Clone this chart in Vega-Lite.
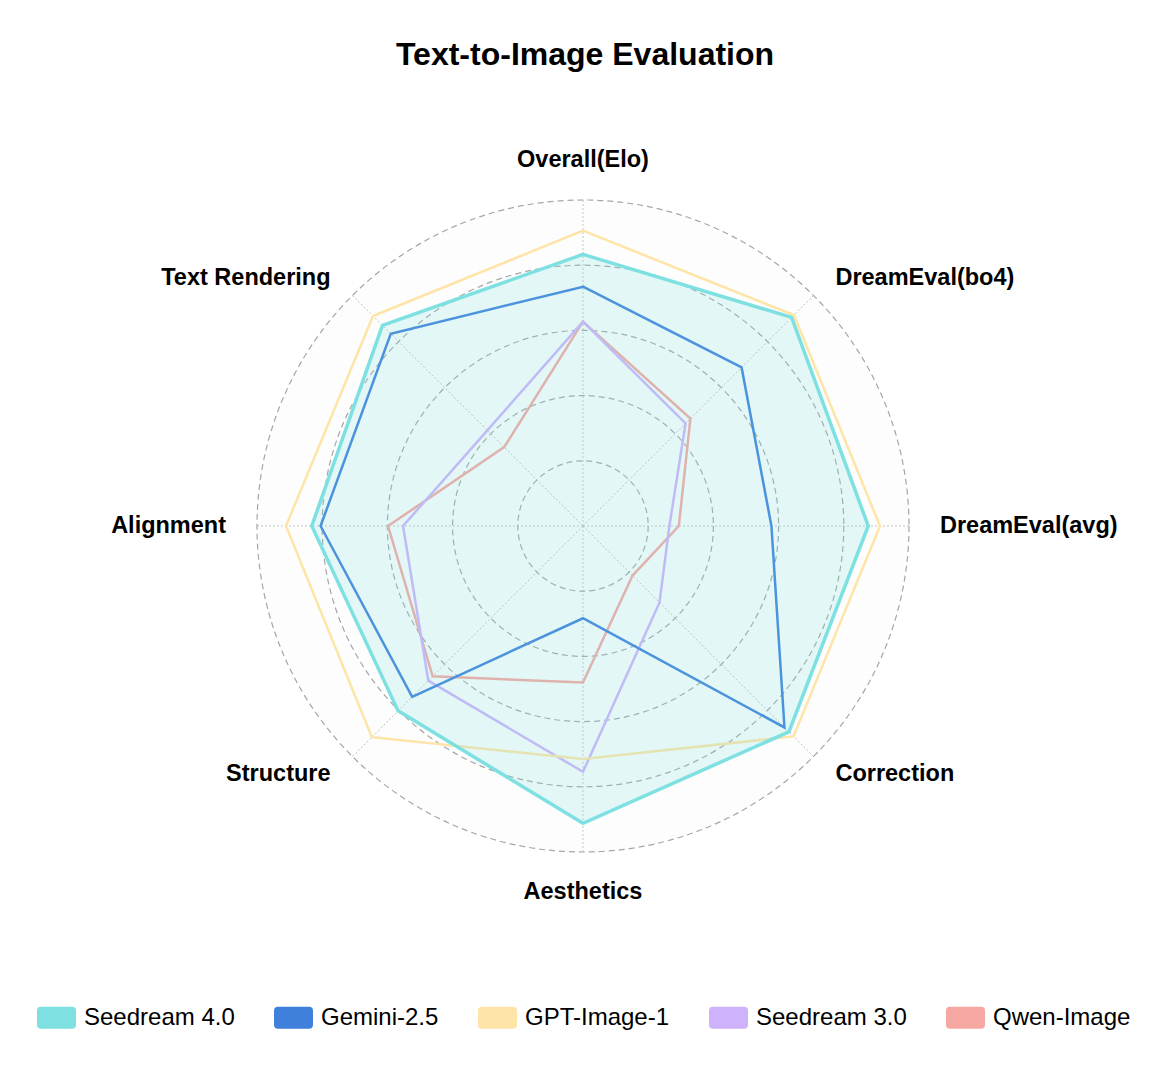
{
  "$schema": "https://vega.github.io/schema/vega-lite/v6.json",
  "width": 1170,
  "height": 1084,
  "autosize": {"type": "none"},
  "padding": 0,
  "background": "white",
  "title": {
    "text": "Text-to-Image Evaluation",
    "anchor": "middle",
    "fontSize": 32,
    "fontWeight": "bold",
    "font": "Liberation Sans",
    "color": "#000000",
    "offset": 0,
    "dy": 72
  },
  "config": {
    "view": {"stroke": null},
    "font": "Liberation Sans"
  },
  "datasets": {
    "scores": [
      {"model": "Seedream 4.0", "dim": "Overall(Elo)", "idx": 0, "v": 0.833},
      {"model": "Seedream 4.0", "dim": "DreamEval(bo4)", "idx": 1, "v": 0.905},
      {"model": "Seedream 4.0", "dim": "DreamEval(avg)", "idx": 2, "v": 0.875},
      {"model": "Seedream 4.0", "dim": "Correction", "idx": 3, "v": 0.893},
      {"model": "Seedream 4.0", "dim": "Aesthetics", "idx": 4, "v": 0.912},
      {"model": "Seedream 4.0", "dim": "Structure", "idx": 5, "v": 0.802},
      {"model": "Seedream 4.0", "dim": "Alignment", "idx": 6, "v": 0.832},
      {"model": "Seedream 4.0", "dim": "Text Rendering", "idx": 7, "v": 0.87},
      {"model": "Gemini-2.5", "dim": "Overall(Elo)", "idx": 0, "v": 0.734},
      {"model": "Gemini-2.5", "dim": "DreamEval(bo4)", "idx": 1, "v": 0.688},
      {"model": "Gemini-2.5", "dim": "DreamEval(avg)", "idx": 2, "v": 0.578},
      {"model": "Gemini-2.5", "dim": "Correction", "idx": 3, "v": 0.874},
      {"model": "Gemini-2.5", "dim": "Aesthetics", "idx": 4, "v": 0.283},
      {"model": "Gemini-2.5", "dim": "Structure", "idx": 5, "v": 0.741},
      {"model": "Gemini-2.5", "dim": "Alignment", "idx": 6, "v": 0.805},
      {"model": "Gemini-2.5", "dim": "Text Rendering", "idx": 7, "v": 0.834},
      {"model": "GPT-Image-1", "dim": "Overall(Elo)", "idx": 0, "v": 0.906},
      {"model": "GPT-Image-1", "dim": "DreamEval(bo4)", "idx": 1, "v": 0.915},
      {"model": "GPT-Image-1", "dim": "DreamEval(avg)", "idx": 2, "v": 0.911},
      {"model": "GPT-Image-1", "dim": "Correction", "idx": 3, "v": 0.913},
      {"model": "GPT-Image-1", "dim": "Aesthetics", "idx": 4, "v": 0.715},
      {"model": "GPT-Image-1", "dim": "Structure", "idx": 5, "v": 0.916},
      {"model": "GPT-Image-1", "dim": "Alignment", "idx": 6, "v": 0.911},
      {"model": "GPT-Image-1", "dim": "Text Rendering", "idx": 7, "v": 0.911},
      {"model": "Seedream 3.0", "dim": "Overall(Elo)", "idx": 0, "v": 0.627},
      {"model": "Seedream 3.0", "dim": "DreamEval(bo4)", "idx": 1, "v": 0.445},
      {"model": "Seedream 3.0", "dim": "DreamEval(avg)", "idx": 2, "v": 0.265},
      {"model": "Seedream 3.0", "dim": "Correction", "idx": 3, "v": 0.332},
      {"model": "Seedream 3.0", "dim": "Aesthetics", "idx": 4, "v": 0.754},
      {"model": "Seedream 3.0", "dim": "Structure", "idx": 5, "v": 0.671},
      {"model": "Seedream 3.0", "dim": "Alignment", "idx": 6, "v": 0.552},
      {"model": "Seedream 3.0", "dim": "Text Rendering", "idx": 7, "v": 0.415},
      {"model": "Qwen-Image", "dim": "Overall(Elo)", "idx": 0, "v": 0.627},
      {"model": "Qwen-Image", "dim": "DreamEval(bo4)", "idx": 1, "v": 0.466},
      {"model": "Qwen-Image", "dim": "DreamEval(avg)", "idx": 2, "v": 0.294},
      {"model": "Qwen-Image", "dim": "Correction", "idx": 3, "v": 0.215},
      {"model": "Qwen-Image", "dim": "Aesthetics", "idx": 4, "v": 0.48},
      {"model": "Qwen-Image", "dim": "Structure", "idx": 5, "v": 0.652},
      {"model": "Qwen-Image", "dim": "Alignment", "idx": 6, "v": 0.598},
      {"model": "Qwen-Image", "dim": "Text Rendering", "idx": 7, "v": 0.342}
    ],
    "axes": [
      {"dim": "Overall(Elo)", "idx": 0},
      {"dim": "DreamEval(bo4)", "idx": 1},
      {"dim": "DreamEval(avg)", "idx": 2},
      {"dim": "Correction", "idx": 3},
      {"dim": "Aesthetics", "idx": 4},
      {"dim": "Structure", "idx": 5},
      {"dim": "Alignment", "idx": 6},
      {"dim": "Text Rendering", "idx": 7}
    ],
    "rings": [
      {"r": 0.2}, {"r": 0.4}, {"r": 0.6}, {"r": 0.8}, {"r": 1.0}
    ]
  },
  "layer": [
    {
      "data": {"name": "rings"},
      "transform": [
        {"filter": "datum.r == 1"},
        {"calculate": "0", "as": "cx"},
        {"calculate": "0", "as": "cy"}
      ],
      "mark": {"type": "point", "shape": "circle", "filled": true, "fill": "#fdfdfd", "strokeWidth": 0, "opacity": 1},
      "encoding": {
        "x": {"field": "cx", "type": "quantitative", "axis": null,
              "scale": {"domain": [-1.7883, 1.8006], "nice": false, "zero": false}},
        "y": {"field": "cy", "type": "quantitative", "axis": null,
              "scale": {"domain": [-1.7117, 1.6135], "nice": false, "zero": false}},
        "size": {"field": "r", "type": "quantitative", "legend": null,
                 "scale": {"type": "pow", "exponent": 2, "domain": [0, 1], "range": [0, 425104]}}
      }
    },
    {
      "data": {"name": "axes"},
      "transform": [
        {"calculate": "0", "as": "cx"},
        {"calculate": "0", "as": "cy"},
        {"calculate": "sin(datum.idx * PI / 4)", "as": "sx"},
        {"calculate": "cos(datum.idx * PI / 4)", "as": "sy"}
      ],
      "mark": {"type": "rule", "stroke": "#c4c4c4", "strokeWidth": 1, "strokeDash": [2, 2]},
      "encoding": {
        "x": {"field": "cx", "type": "quantitative"},
        "y": {"field": "cy", "type": "quantitative"},
        "x2": {"field": "sx"},
        "y2": {"field": "sy"}
      }
    },
    {
      "data": {"name": "rings"},
      "transform": [
        {"calculate": "0", "as": "cx"},
        {"calculate": "0", "as": "cy"}
      ],
      "mark": {"type": "point", "shape": "circle", "filled": false, "stroke": "#a6a6a6", "strokeWidth": 1.2, "strokeDash": [6, 4], "opacity": 1},
      "encoding": {
        "x": {"field": "cx", "type": "quantitative"},
        "y": {"field": "cy", "type": "quantitative"},
        "size": {"field": "r", "type": "quantitative", "legend": null}
      }
    },
    {
      "data": {"name": "scores"},
      "transform": [
        {"filter": "datum.model == 'Qwen-Image'"},
        {"calculate": "datum.v * sin(datum.idx * PI / 4)", "as": "px"},
        {"calculate": "datum.v * cos(datum.idx * PI / 4)", "as": "py"}
      ],
      "mark": {"type": "line", "interpolate": "linear-closed", "strokeWidth": 2.5, "strokeJoin": "miter"},
      "encoding": {
        "x": {"field": "px", "type": "quantitative"},
        "y": {"field": "py", "type": "quantitative"},
        "order": {"field": "idx", "type": "quantitative"},
        "color": {
          "field": "model",
          "type": "nominal",
          "scale": {
            "domain": ["Seedream 4.0", "Gemini-2.5", "GPT-Image-1", "Seedream 3.0", "Qwen-Image"],
            "range": ["#7ee0e1", "#3f80dc", "#fee4a6", "#cfb2fc", "#f7a7a1"]
          },
          "legend": {
            "title": null,
            "orient": "none",
            "direction": "horizontal",
            "legendX": 37,
            "legendY": 998,
            "padding": 0,
            "symbolType": "M-0.8,-0.564L0.8,-0.564Q1,-0.564 1,-0.364L1,0.364Q1,0.564 0.8,0.564L-0.8,0.564Q-1,0.564 -1,0.364L-1,-0.364Q-1,-0.564 -0.8,-0.564Z",
            "symbolSize": 1521,
            "symbolStrokeWidth": 0,
            "labelFont": "Liberation Sans",
            "labelFontSize": 24,
            "labelColor": "#000000",
            "labelOffset": 8,
            "columnPadding": 39,
            "labelLimit": 300,
            "encode": {
              "symbols": {
                "update": {
                  "fill": {"scale": "color", "field": "value"},
                  "stroke": {"value": "transparent"},
                  "opacity": {"value": 1}
                }
              }
            }
          }
        }
      }
    },
    {
      "data": {"name": "scores"},
      "transform": [
        {"filter": "datum.model == 'Seedream 3.0'"},
        {"calculate": "datum.v * sin(datum.idx * PI / 4)", "as": "px"},
        {"calculate": "datum.v * cos(datum.idx * PI / 4)", "as": "py"}
      ],
      "mark": {"type": "line", "interpolate": "linear-closed", "strokeWidth": 2.5, "strokeJoin": "miter"},
      "encoding": {
        "x": {"field": "px", "type": "quantitative"},
        "y": {"field": "py", "type": "quantitative"},
        "order": {"field": "idx", "type": "quantitative"},
        "color": {"field": "model", "type": "nominal"}
      }
    },
    {
      "data": {"name": "scores"},
      "transform": [
        {"filter": "datum.model == 'GPT-Image-1'"},
        {"calculate": "datum.v * sin(datum.idx * PI / 4)", "as": "px"},
        {"calculate": "datum.v * cos(datum.idx * PI / 4)", "as": "py"}
      ],
      "mark": {"type": "line", "interpolate": "linear-closed", "strokeWidth": 2.5, "strokeJoin": "miter"},
      "encoding": {
        "x": {"field": "px", "type": "quantitative"},
        "y": {"field": "py", "type": "quantitative"},
        "order": {"field": "idx", "type": "quantitative"},
        "color": {"field": "model", "type": "nominal"}
      }
    },
    {
      "data": {"name": "scores"},
      "transform": [
        {"filter": "datum.model == 'Gemini-2.5'"},
        {"calculate": "datum.v * sin(datum.idx * PI / 4)", "as": "px"},
        {"calculate": "datum.v * cos(datum.idx * PI / 4)", "as": "py"}
      ],
      "mark": {"type": "line", "interpolate": "linear-closed", "strokeWidth": 2.5, "strokeJoin": "miter"},
      "encoding": {
        "x": {"field": "px", "type": "quantitative"},
        "y": {"field": "py", "type": "quantitative"},
        "order": {"field": "idx", "type": "quantitative"},
        "color": {"field": "model", "type": "nominal"}
      }
    },
    {
      "data": {"name": "scores"},
      "transform": [
        {"filter": "datum.model == 'Seedream 4.0'"},
        {"calculate": "datum.v * sin(datum.idx * PI / 4)", "as": "px"},
        {"calculate": "datum.v * cos(datum.idx * PI / 4)", "as": "py"}
      ],
      "mark": {"type": "line", "interpolate": "linear-closed", "strokeWidth": 3.5, "strokeJoin": "miter", "fill": "#7ee0e1", "fillOpacity": 0.2},
      "encoding": {
        "x": {"field": "px", "type": "quantitative"},
        "y": {"field": "py", "type": "quantitative"},
        "order": {"field": "idx", "type": "quantitative"},
        "color": {"field": "model", "type": "nominal"}
      }
    },
    {
      "data": {"name": "axes"},
      "transform": [
        {"filter": "datum.idx >= 1 && datum.idx <= 3"},
        {"calculate": "1.095 * sin(datum.idx * PI / 4)", "as": "lx"},
        {"calculate": "cos(datum.idx * PI / 4) * (0.969 + 0.154 * abs(cos(datum.idx * PI / 4)))", "as": "ly"}
      ],
      "mark": {"type": "text", "align": "left", "baseline": "middle", "font": "Liberation Sans", "fontSize": 23.5, "fontWeight": "bold", "color": "#000000"},
      "encoding": {
        "x": {"field": "lx", "type": "quantitative"},
        "y": {"field": "ly", "type": "quantitative"},
        "text": {"field": "dim", "type": "nominal"}
      }
    },
    {
      "data": {"name": "axes"},
      "transform": [
        {"filter": "datum.idx >= 5"},
        {"calculate": "1.095 * sin(datum.idx * PI / 4)", "as": "lx"},
        {"calculate": "cos(datum.idx * PI / 4) * (0.969 + 0.154 * abs(cos(datum.idx * PI / 4)))", "as": "ly"}
      ],
      "mark": {"type": "text", "align": "right", "baseline": "middle", "font": "Liberation Sans", "fontSize": 23.5, "fontWeight": "bold", "color": "#000000"},
      "encoding": {
        "x": {"field": "lx", "type": "quantitative"},
        "y": {"field": "ly", "type": "quantitative"},
        "text": {"field": "dim", "type": "nominal"}
      }
    },
    {
      "data": {"name": "axes"},
      "transform": [
        {"filter": "datum.idx == 0 || datum.idx == 4"},
        {"calculate": "1.095 * sin(datum.idx * PI / 4)", "as": "lx"},
        {"calculate": "cos(datum.idx * PI / 4) * (0.969 + 0.154 * abs(cos(datum.idx * PI / 4)))", "as": "ly"}
      ],
      "mark": {"type": "text", "align": "center", "baseline": "middle", "font": "Liberation Sans", "fontSize": 23.5, "fontWeight": "bold", "color": "#000000"},
      "encoding": {
        "x": {"field": "lx", "type": "quantitative"},
        "y": {"field": "ly", "type": "quantitative"},
        "text": {"field": "dim", "type": "nominal"}
      }
    }
  ]
}
